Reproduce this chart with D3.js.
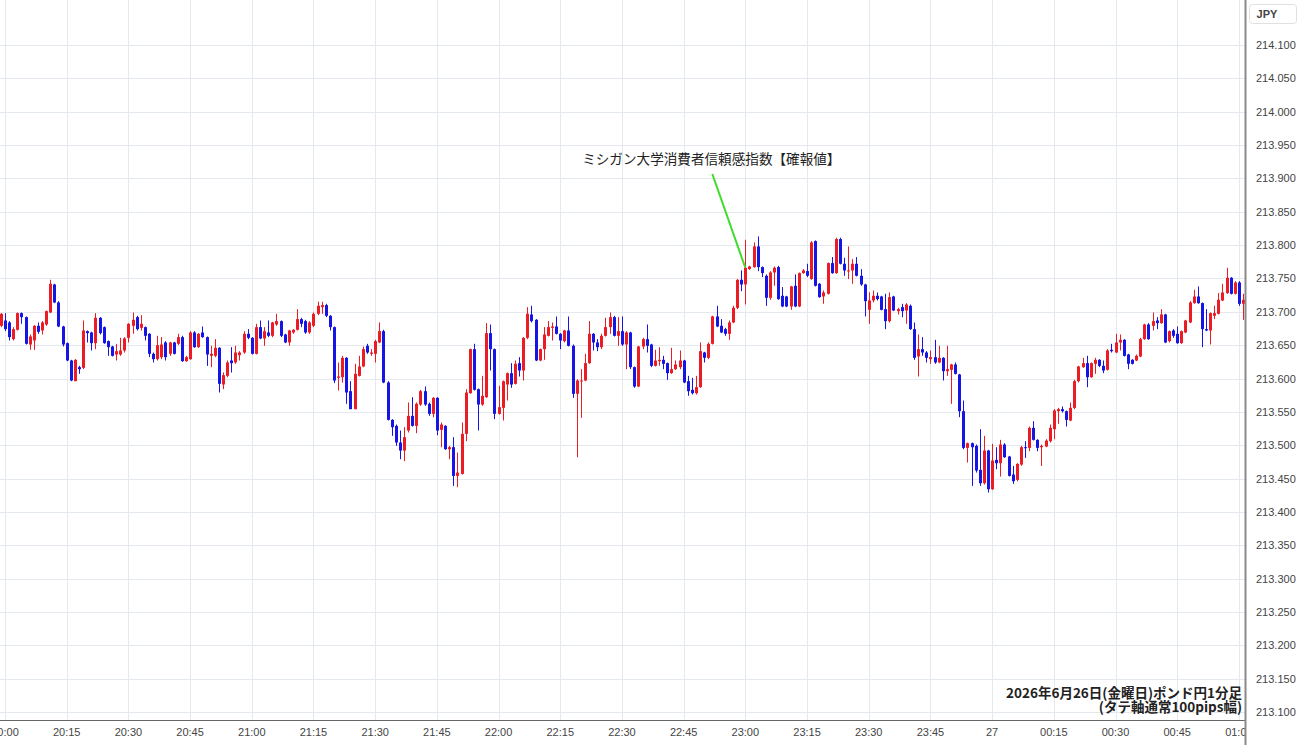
<!DOCTYPE html>
<html>
<head>
<meta charset="utf-8">
<script src="https://cdn.jsdelivr.net/npm/d3@7.9.0/dist/d3.min.js"></script>
<style>
  body { margin: 0; background: #fff; }
  svg { display: block; font-family: "Liberation Sans", Arial, sans-serif; }
</style>
</head>
<body>
<svg id="chart" width="1300" height="745"></svg>
<script>
// GBP/JPY 1-minute candles, 2026-06-26 19:59 -> 2026-06-27 01:01
const firstCandle = new Date(2026, 5, 26, 19, 59);

const opens = [
  213.679, 213.687, 213.684, 213.659, 213.673, 213.698, 213.692, 213.651, 213.657, 213.679,
  213.672, 213.681, 213.699, 213.741, 213.714, 213.678, 213.653, 213.627, 213.596, 213.617,
  213.616, 213.671, 213.669, 213.653, 213.691, 213.677, 213.656, 213.648, 213.636, 213.636,
  213.642, 213.661, 213.679, 213.692, 213.676, 213.677, 213.667, 213.637, 213.629, 213.632,
  213.654, 213.637, 213.654, 213.652, 213.662, 213.626, 213.629, 213.669, 213.647, 213.669,
  213.662, 213.634, 213.634, 213.646, 213.591, 213.604, 213.627, 213.624, 213.635, 213.639,
  213.667, 213.661, 213.637, 213.677, 213.660, 213.669, 213.664, 213.681, 213.686, 213.666,
  213.654, 213.669, 213.673, 213.689, 213.686, 213.669, 213.679, 213.697, 213.707, 213.710,
  213.694, 213.677, 213.601, 213.602, 213.631, 213.581, 213.554, 213.604, 213.618, 213.649,
  213.637, 213.637, 213.654, 213.671, 213.594, 213.538, 213.529, 213.504, 213.492, 213.522,
  213.544, 213.529, 213.561, 213.581, 213.562, 213.547, 213.571, 213.523, 213.529, 213.494,
  213.497, 213.454, 213.457, 213.517, 213.578, 213.644, 213.584, 213.561, 213.572, 213.668,
  213.644, 213.547, 213.556, 213.591, 213.608, 213.592, 213.623, 213.612, 213.661, 213.696,
  213.688, 213.627, 213.644, 213.664, 213.676, 213.678, 213.667, 213.656, 213.672, 213.649,
  213.577, 213.596, 213.597, 213.623, 213.667, 213.654, 213.647, 213.664, 213.677, 213.692,
  213.664, 213.671, 213.651, 213.669, 213.617, 213.588, 213.648, 213.659, 213.651, 213.619,
  213.626, 213.628, 213.623, 213.608, 213.614, 213.617, 213.627, 213.596, 213.583, 213.578,
  213.587, 213.639, 213.631, 213.652, 213.693, 213.679, 213.674, 213.667, 213.684, 213.706,
  213.748, 213.741, 213.764, 213.767, 213.798, 213.767, 213.754, 213.721, 213.759, 213.767,
  213.724, 213.723, 213.708, 213.739, 213.708, 213.758, 213.761, 213.749, 213.806, 213.742,
  213.723, 213.727, 213.773, 213.758, 213.809, 213.772, 213.761, 213.762, 213.772, 213.754,
  213.741, 213.703, 213.717, 213.724, 213.723, 213.704, 213.686, 213.723, 213.701, 213.707,
  213.702, 213.709, 213.674, 213.633, 213.644, 213.639, 213.629, 213.632, 213.624, 213.631,
  213.611, 213.613, 213.621, 213.606, 213.551, 213.496, 213.503, 213.499, 213.463, 213.443,
  213.492, 213.434, 213.478, 213.473, 213.501, 213.483, 213.456, 213.448, 213.471, 213.497,
  213.496, 213.526, 213.508, 213.497, 213.498, 213.506, 213.524, 213.551, 213.554, 213.551,
  213.537, 213.556, 213.596, 213.617, 213.623, 213.602, 213.622, 213.628, 213.619, 213.613,
  213.643, 213.639, 213.654, 213.658, 213.636, 213.628, 213.627, 213.633, 213.659, 213.681,
  213.679, 213.687, 213.683, 213.696, 213.656, 213.672, 213.667, 213.653, 213.669, 213.684,
  213.713, 213.723, 213.713, 213.674, 213.672, 213.694, 213.697, 213.717, 213.728, 213.751,
  213.727, 213.744, 213.712
];

const highs = [
  213.698, 213.698, 213.686, 213.677, 213.699, 213.699, 213.693, 213.666, 213.680, 213.684,
  213.686, 213.702, 213.748, 213.742, 213.716, 213.679, 213.654, 213.628, 213.629, 213.619,
  213.687, 213.672, 213.670, 213.698, 213.692, 213.678, 213.657, 213.649, 213.652, 213.661,
  213.662, 213.683, 213.699, 213.694, 213.695, 213.678, 213.668, 213.639, 213.664, 213.662,
  213.656, 213.655, 213.655, 213.667, 213.664, 213.634, 213.671, 213.671, 213.668, 213.678,
  213.663, 213.649, 213.659, 213.647, 213.609, 213.627, 213.647, 213.649, 213.641, 213.671,
  213.674, 213.662, 213.682, 213.687, 213.677, 213.687, 213.685, 213.697, 213.687, 213.667,
  213.673, 213.674, 213.704, 213.691, 213.688, 213.686, 213.699, 213.715, 213.715, 213.712,
  213.695, 213.678, 213.624, 213.634, 213.632, 213.596, 213.622, 213.634, 213.648, 213.652,
  213.644, 213.658, 213.684, 213.673, 213.596, 213.539, 213.531, 213.522, 213.527, 213.564,
  213.572, 213.564, 213.583, 213.588, 213.564, 213.572, 213.572, 213.534, 213.530, 213.499,
  213.512, 213.489, 213.534, 213.584, 213.645, 213.652, 213.585, 213.604, 213.683, 213.681,
  213.645, 213.589, 213.597, 213.609, 213.623, 213.627, 213.632, 213.662, 213.707, 213.709,
  213.689, 213.645, 213.677, 213.686, 213.684, 213.693, 213.668, 213.673, 213.693, 213.651,
  213.599, 213.614, 213.637, 213.686, 213.668, 213.659, 213.667, 213.691, 213.699, 213.694,
  213.692, 213.693, 213.671, 213.670, 213.618, 213.649, 213.661, 213.681, 213.652, 213.643,
  213.647, 213.634, 213.624, 213.646, 213.627, 213.642, 213.628, 213.604, 213.601, 213.604,
  213.654, 213.640, 213.654, 213.694, 213.709, 213.689, 213.676, 213.687, 213.709, 213.749,
  213.762, 213.808, 213.769, 213.804, 213.813, 213.768, 213.756, 213.761, 213.768, 213.769,
  213.737, 213.724, 213.739, 213.756, 213.759, 213.764, 213.772, 213.806, 213.807, 213.743,
  213.732, 213.774, 213.782, 213.811, 213.811, 213.781, 213.798, 213.779, 213.782, 213.764,
  213.742, 213.729, 213.732, 213.729, 213.724, 213.727, 213.729, 213.724, 213.706, 213.712,
  213.713, 213.711, 213.684, 213.666, 213.662, 213.641, 213.642, 213.658, 213.649, 213.632,
  213.649, 213.622, 213.624, 213.607, 213.567, 213.504, 213.504, 213.501, 213.524, 213.514,
  213.493, 213.502, 213.497, 213.508, 213.503, 213.484, 213.469, 213.473, 213.499, 213.506,
  213.528, 213.536, 213.509, 213.501, 213.509, 213.531, 213.554, 213.556, 213.558, 213.552,
  213.564, 213.598, 213.619, 213.631, 213.634, 213.624, 213.631, 213.629, 213.627, 213.644,
  213.652, 213.667, 213.666, 213.659, 213.637, 213.629, 213.636, 213.661, 213.682, 213.683,
  213.699, 213.692, 213.704, 213.697, 213.672, 213.674, 213.678, 213.672, 213.688, 213.716,
  213.733, 213.738, 213.714, 213.704, 213.699, 213.709, 213.728, 213.742, 213.766, 213.752,
  213.746, 213.746, 213.727
];

const lows = [
  213.677, 213.671, 213.657, 213.657, 213.672, 213.682, 213.651, 213.643, 213.643, 213.667,
  213.666, 213.679, 213.698, 213.713, 213.677, 213.648, 213.626, 213.596, 213.596, 213.607,
  213.614, 213.654, 213.642, 213.644, 213.666, 213.652, 213.634, 213.633, 213.627, 213.634,
  213.639, 213.654, 213.667, 213.672, 213.672, 213.657, 213.632, 213.624, 213.627, 213.629,
  213.627, 213.634, 213.636, 213.650, 213.625, 213.625, 213.628, 213.646, 213.646, 213.661,
  213.619, 213.617, 213.632, 213.579, 213.584, 213.602, 213.609, 213.622, 213.627, 213.637,
  213.659, 213.636, 213.636, 213.659, 213.649, 213.662, 213.662, 213.679, 213.662, 213.653,
  213.649, 213.667, 213.672, 213.677, 213.667, 213.667, 213.677, 213.695, 213.697, 213.692,
  213.672, 213.593, 213.582, 213.594, 213.562, 213.554, 213.554, 213.603, 213.617, 213.637,
  213.634, 213.624, 213.653, 213.593, 213.537, 213.514, 213.499, 213.479, 213.476, 213.519,
  213.528, 213.518, 213.559, 213.559, 213.544, 213.542, 213.515, 213.497, 213.493, 213.479,
  213.439, 213.437, 213.456, 213.506, 213.577, 213.582, 213.522, 213.559, 213.571, 213.612,
  213.539, 213.546, 213.537, 213.567, 213.586, 213.591, 213.603, 213.597, 213.659, 213.684,
  213.626, 213.626, 213.628, 213.663, 213.657, 213.666, 213.644, 213.654, 213.648, 213.571,
  213.482, 213.541, 213.596, 213.622, 213.642, 213.641, 213.644, 213.663, 213.667, 213.663,
  213.649, 213.649, 213.614, 213.614, 213.586, 213.587, 213.644, 213.639, 213.617, 213.618,
  213.619, 213.614, 213.598, 213.607, 213.613, 213.614, 213.593, 213.574, 213.576, 213.576,
  213.586, 213.624, 213.629, 213.651, 213.677, 213.668, 213.664, 213.658, 213.683, 213.704,
  213.731, 213.711, 213.763, 213.766, 213.761, 213.752, 213.709, 213.718, 213.739, 213.718,
  213.707, 213.707, 213.703, 213.707, 213.707, 213.757, 213.752, 213.748, 213.738, 213.721,
  213.712, 213.726, 213.757, 213.757, 213.771, 213.754, 213.749, 213.742, 213.753, 213.739,
  213.693, 213.682, 213.714, 213.717, 213.702, 213.674, 213.684, 213.701, 213.696, 213.692,
  213.682, 213.673, 213.628, 213.603, 213.634, 213.624, 213.622, 213.622, 213.623, 213.597,
  213.604, 213.562, 213.606, 213.542, 213.494, 213.474, 213.439, 213.459, 213.439, 213.441,
  213.429, 213.433, 213.464, 213.453, 213.481, 213.453, 213.442, 213.446, 213.469, 213.481,
  213.491, 213.507, 213.491, 213.469, 213.497, 213.504, 213.509, 213.532, 213.549, 213.528,
  213.536, 213.554, 213.594, 213.616, 213.587, 213.601, 213.607, 213.617, 213.608, 213.612,
  213.639, 213.638, 213.642, 213.633, 213.614, 213.621, 213.626, 213.632, 213.658, 213.658,
  213.672, 213.674, 213.682, 213.653, 213.654, 213.661, 213.652, 213.652, 213.668, 213.683,
  213.712, 213.712, 213.647, 213.671, 213.651, 213.689, 213.696, 213.716, 213.727, 213.726,
  213.726, 213.709, 213.688
];

const closes = [
  213.697, 213.674, 213.662, 213.674, 213.698, 213.692, 213.652, 213.663, 213.679, 213.670,
  213.684, 213.701, 213.742, 213.714, 213.678, 213.651, 213.627, 213.597, 213.628, 213.614,
  213.672, 213.668, 213.653, 213.691, 213.668, 213.653, 213.647, 213.634, 213.641, 213.642,
  213.660, 213.682, 213.688, 213.674, 213.682, 213.664, 213.637, 213.629, 213.650, 213.651,
  213.632, 213.654, 213.637, 213.662, 213.626, 213.632, 213.669, 213.647, 213.667, 213.662,
  213.636, 213.637, 213.646, 213.592, 213.605, 213.624, 213.623, 213.639, 213.639, 213.667,
  213.661, 213.637, 213.677, 213.660, 213.671, 213.664, 213.684, 213.686, 213.664, 213.654,
  213.672, 213.673, 213.689, 213.682, 213.669, 213.684, 213.697, 213.709, 213.710, 213.694,
  213.677, 213.597, 213.603, 213.631, 213.579, 213.554, 213.607, 213.618, 213.644, 213.639,
  213.639, 213.656, 213.671, 213.594, 213.538, 213.527, 213.504, 213.492, 213.512, 213.544,
  213.529, 213.562, 213.581, 213.561, 213.547, 213.571, 213.522, 213.531, 213.494, 213.497,
  213.454, 213.459, 213.517, 213.579, 213.644, 213.583, 213.561, 213.574, 213.668, 213.644,
  213.547, 213.557, 213.596, 213.608, 213.591, 213.622, 213.612, 213.661, 213.697, 213.686,
  213.627, 213.644, 213.666, 213.677, 213.678, 213.667, 213.657, 213.672, 213.649, 213.577,
  213.597, 213.597, 213.623, 213.667, 213.654, 213.647, 213.664, 213.677, 213.692, 213.664,
  213.671, 213.651, 213.669, 213.617, 213.588, 213.648, 213.659, 213.649, 213.619, 213.627,
  213.628, 213.622, 213.608, 213.614, 213.621, 213.627, 213.594, 213.581, 213.578, 213.587,
  213.641, 213.631, 213.652, 213.693, 213.678, 213.669, 213.667, 213.684, 213.706, 213.748,
  213.741, 213.766, 213.768, 213.798, 213.767, 213.758, 213.721, 213.759, 213.766, 213.719,
  213.708, 213.708, 213.738, 213.708, 213.758, 213.762, 213.754, 213.804, 213.739, 213.722,
  213.729, 213.773, 213.758, 213.809, 213.772, 213.762, 213.762, 213.772, 213.754, 213.741,
  213.716, 213.717, 213.724, 213.719, 213.703, 213.686, 213.722, 213.702, 213.704, 213.701,
  213.711, 213.674, 213.631, 213.644, 213.639, 213.631, 213.632, 213.624, 213.631, 213.611,
  213.614, 213.621, 213.607, 213.551, 213.496, 213.503, 213.497, 213.462, 213.443, 213.492,
  213.434, 213.477, 213.473, 213.501, 213.482, 213.454, 213.446, 213.472, 213.497, 213.496,
  213.526, 213.508, 213.496, 213.499, 213.507, 213.526, 213.552, 213.554, 213.551, 213.538,
  213.556, 213.596, 213.618, 213.623, 213.602, 213.623, 213.628, 213.619, 213.612, 213.642,
  213.641, 213.654, 213.658, 213.634, 213.622, 213.622, 213.634, 213.659, 213.681, 213.659,
  213.686, 213.683, 213.696, 213.654, 213.671, 213.664, 213.653, 213.671, 213.687, 213.714,
  213.723, 213.713, 213.674, 213.672, 213.698, 213.698, 213.718, 213.729, 213.751, 213.727,
  213.744, 213.712, 213.718
];

const priceTicks = d3.range(213.1, 214.1001, 0.05);
const annotationText = 'ミシガン大学消費者信頼感指数【確報値】';
const annotationTime = new Date(2026, 5, 26, 23, 0);
const annotationPrice = 213.766;
const captionLines = ['2026年6月26日(金曜日)ポンド円1分足', '(タテ軸通常100pips幅)'];

const candles = opens.map((o, i) => ({
  t: d3.timeMinute.offset(firstCandle, i),
  o, h: highs[i], l: lows[i], c: closes[i]
}));

const W = 1300, H = 745;
const plotW = 1245, plotH = 720;
const svg = d3.select('#chart');

const x = d3.scaleTime()
  .domain([new Date(2026, 5, 26, 19, 58, 47), new Date(2026, 5, 27, 1, 1, 29)])
  .range([0, plotW]);
const y = d3.scaleLinear().domain([213.1, 214.1]).range([712, 45]);

const defs = svg.append('defs');
defs.append('clipPath').attr('id', 'plot-clip')
  .append('rect').attr('x', 0).attr('y', 0).attr('width', plotW).attr('height', plotH);
defs.append('clipPath').attr('id', 'x-clip')
  .append('rect').attr('x', 0).attr('y', plotH).attr('width', plotW).attr('height', H - plotH);

const gridColor = '#e4e9f0';
const timeTicks = d3.timeMinute.every(15).range(x.domain()[0], x.domain()[1]);

// grid
svg.append('g').selectAll('line').data(priceTicks).join('line')
  .attr('x1', 0).attr('x2', plotW)
  .attr('y1', d => Math.round(y(d)) + 0.5).attr('y2', d => Math.round(y(d)) + 0.5)
  .attr('stroke', gridColor);
svg.append('g').selectAll('line').data(timeTicks).join('line')
  .attr('x1', d => Math.round(x(d)) + 0.5).attr('x2', d => Math.round(x(d)) + 0.5)
  .attr('y1', 0).attr('y2', plotH)
  .attr('stroke', gridColor);

// candles
const up = '#ec1c24', down = '#1515e6';
const g = svg.append('g').attr('clip-path', 'url(#plot-clip)');
g.selectAll('line.wick').data(candles).join('line')
  .attr('class', 'wick')
  .attr('x1', d => Math.round(x(d.t)) + 0.5).attr('x2', d => Math.round(x(d.t)) + 0.5)
  .attr('y1', d => y(d.h)).attr('y2', d => y(d.l))
  .attr('stroke', d => d.c >= d.o ? up : down)
  .attr('stroke-width', 1);
g.selectAll('rect.body').data(candles).join('rect')
  .attr('class', 'body')
  .attr('x', d => Math.round(x(d.t)) - 1)
  .attr('width', 3)
  .attr('y', d => y(Math.max(d.o, d.c)))
  .attr('height', d => Math.max(1, Math.abs(y(d.o) - y(d.c))))
  .attr('fill', d => d.c >= d.o ? up : down);

// annotation
const ax = x(annotationTime), ay = y(annotationPrice);
svg.append('line')
  .attr('x1', ax - 33).attr('y1', 174).attr('x2', ax).attr('y2', ay)
  .attr('stroke', '#3ddc2a').attr('stroke-width', 2);
svg.append('text')
  .attr('x', ax - 34).attr('y', 164)
  .attr('text-anchor', 'middle')
  .attr('font-family', '"Noto Sans CJK JP", sans-serif')
  .attr('font-size', 13.6).attr('fill', '#222')
  .text(annotationText);

// caption
svg.append('g').selectAll('text').data(captionLines).join('text')
  .attr('x', plotW - 3)
  .attr('y', (d, i) => 698 + i * 14)
  .attr('text-anchor', 'end')
  .attr('font-family', '"Noto Sans CJK JP", sans-serif')
  .attr('font-size', 13.5).attr('font-weight', 'bold').attr('fill', '#222')
  .text(d => d);

// x axis
svg.append('line').attr('x1', 0).attr('x2', plotW).attr('y1', plotH + 0.5).attr('y2', plotH + 0.5)
  .attr('stroke', '#666');
const fmt = d => (d.getHours() === 0 && d.getMinutes() === 0) ? String(d.getDate()) : d3.timeFormat('%H:%M')(d);
svg.append('g').attr('clip-path', 'url(#x-clip)')
  .selectAll('text').data(timeTicks).join('text')
  .attr('x', d => x(d)).attr('y', 736)
  .attr('text-anchor', 'middle')
  .attr('font-size', 11).attr('fill', '#444')
  .text(fmt);

// y axis
svg.append('line').attr('x1', plotW + 0.5).attr('x2', plotW + 0.5).attr('y1', 0).attr('y2', H)
  .attr('stroke', '#8a8a8a').attr('stroke-width', 2);
svg.append('g').selectAll('text').data(priceTicks).join('text')
  .attr('x', 1256).attr('y', d => y(d) + 4)
  .attr('font-size', 11).attr('fill', '#444')
  .text(d => d.toFixed(3));

svg.append('rect').attr('x', 1249.5).attr('y', 4.5).attr('width', 47).attr('height', 19).attr('rx', 3)
  .attr('fill', '#fff').attr('stroke', '#e0e0e0');
svg.append('text').attr('x', 1267).attr('y', 18).attr('text-anchor', 'middle')
  .attr('font-size', 11).attr('font-weight', 'bold').attr('fill', '#444').text('JPY');
</script>
</body>
</html>
